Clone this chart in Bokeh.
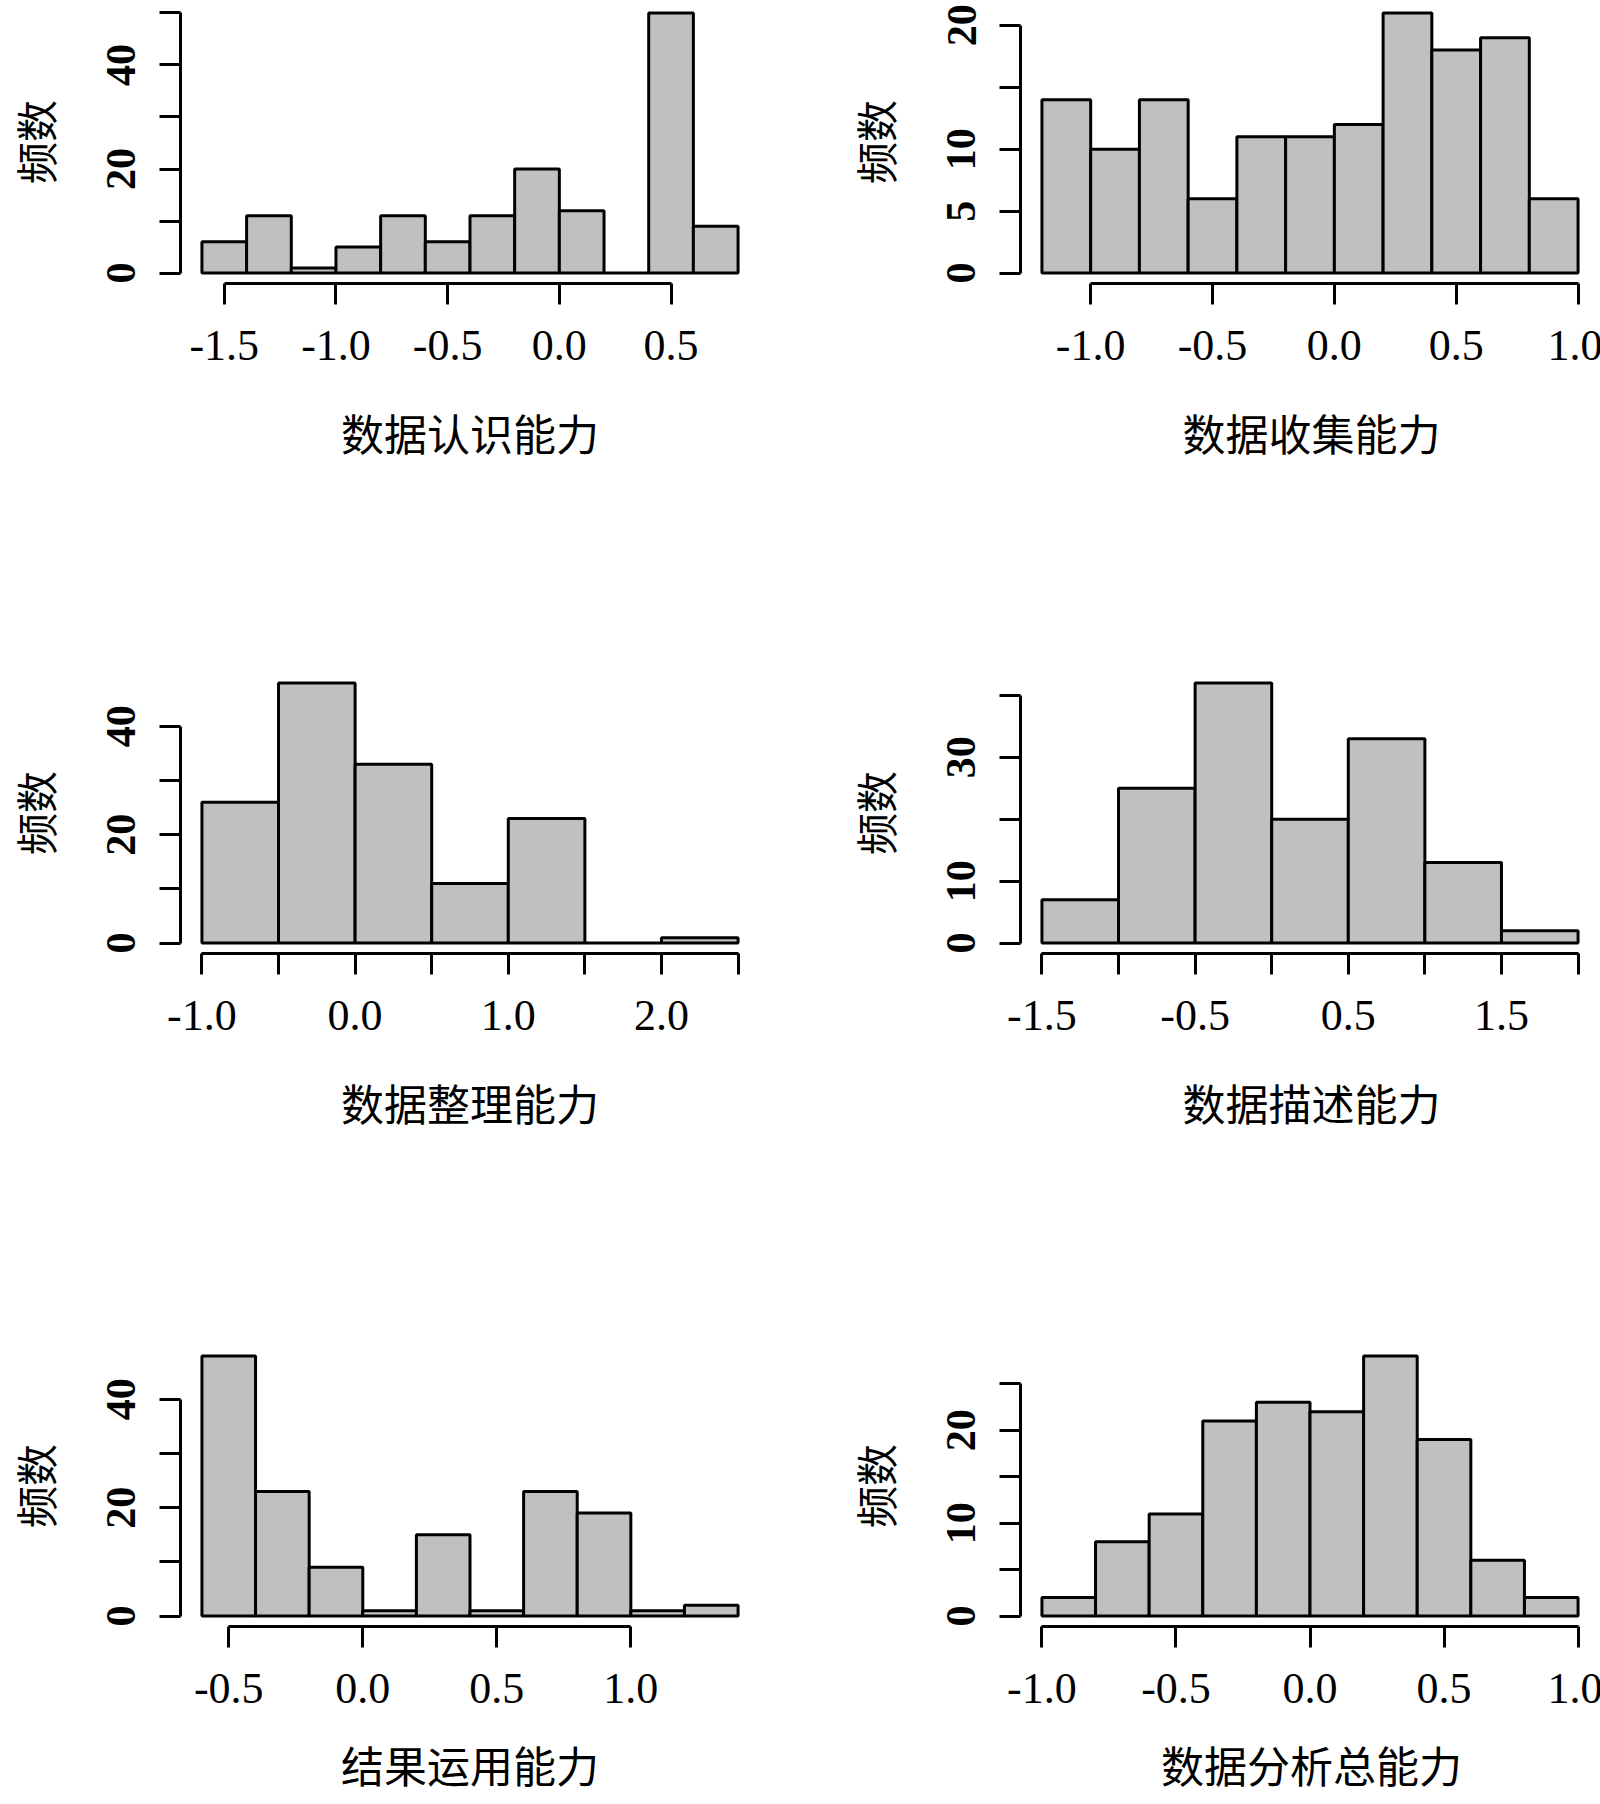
from bokeh.plotting import figure
from bokeh.layouts import column, row
from bokeh.models import Range1d, FixedTicker
from bokeh.embed import file_html
from bokeh.resources import INLINE

# ---------------- data ----------------
y_title = "频数"

title_a = "数据认识能力"
breaks_a = [-1.6, -1.4, -1.2, -1.0, -0.8, -0.6, -0.4, -0.2, 0.0, 0.2, 0.4, 0.6, 0.8]
counts_a = [6, 11, 1, 5, 11, 6, 11, 20, 12, 0, 50, 9]
xticks_a = [-1.5, -1.0, -0.5, 0.0, 0.5]
xlabels_a = ["-1.5", "-1.0", "-0.5", "0.0", "0.5"]
yticks_a = [0, 10, 20, 30, 40, 50]
ylabels_a = ["0", "", "20", "", "40", ""]

title_b = "数据收集能力"
breaks_b = [-1.2, -1.0, -0.8, -0.6, -0.4, -0.2, 0.0, 0.2, 0.4, 0.6, 0.8, 1.0]
counts_b = [14, 10, 14, 6, 11, 11, 12, 21, 18, 19, 6]
xticks_b = [-1.0, -0.5, 0.0, 0.5, 1.0]
xlabels_b = ["-1.0", "-0.5", "0.0", "0.5", "1.0"]
yticks_b = [0, 5, 10, 15, 20]
ylabels_b = ["0", "5", "10", "", "20"]

title_c = "数据整理能力"
breaks_c = [-1.0, -0.5, 0.0, 0.5, 1.0, 1.5, 2.0, 2.5]
counts_c = [26, 48, 33, 11, 23, 0, 1]
xticks_c = [-1.0, -0.5, 0.0, 0.5, 1.0, 1.5, 2.0, 2.5]
xlabels_c = ["-1.0", "", "0.0", "", "1.0", "", "2.0", ""]
yticks_c = [0, 10, 20, 30, 40]
ylabels_c = ["0", "", "20", "", "40"]

title_d = "数据描述能力"
breaks_d = [-1.5, -1.0, -0.5, 0.0, 0.5, 1.0, 1.5, 2.0]
counts_d = [7, 25, 42, 20, 33, 13, 2]
xticks_d = [-1.5, -1.0, -0.5, 0.0, 0.5, 1.0, 1.5, 2.0]
xlabels_d = ["-1.5", "", "-0.5", "", "0.5", "", "1.5", ""]
yticks_d = [0, 10, 20, 30, 40]
ylabels_d = ["0", "10", "", "30", ""]

title_e = "结果运用能力"
breaks_e = [-0.6, -0.4, -0.2, 0.0, 0.2, 0.4, 0.6, 0.8, 1.0, 1.2, 1.4]
counts_e = [48, 23, 9, 1, 15, 1, 23, 19, 1, 2]
xticks_e = [-0.5, 0.0, 0.5, 1.0]
xlabels_e = ["-0.5", "0.0", "0.5", "1.0"]
yticks_e = [0, 10, 20, 30, 40]
ylabels_e = ["0", "", "20", "", "40"]

title_f = "数据分析总能力"
breaks_f = [-1.0, -0.8, -0.6, -0.4, -0.2, 0.0, 0.2, 0.4, 0.6, 0.8, 1.0]
counts_f = [2, 8, 11, 21, 23, 22, 28, 19, 6, 2]
xticks_f = [-1.0, -0.5, 0.0, 0.5, 1.0]
xlabels_f = ["-1.0", "-0.5", "0.0", "0.5", "1.0"]
yticks_f = [0, 5, 10, 15, 20, 25]
ylabels_f = ["0", "", "10", "", "20", ""]

panels = [
    (title_a, breaks_a, counts_a, xticks_a, xlabels_a, yticks_a, ylabels_a),
    (title_b, breaks_b, counts_b, xticks_b, xlabels_b, yticks_b, ylabels_b),
    (title_c, breaks_c, counts_c, xticks_c, xlabels_c, yticks_c, ylabels_c),
    (title_d, breaks_d, counts_d, xticks_d, xlabels_d, yticks_d, ylabels_d),
    (title_e, breaks_e, counts_e, xticks_e, xlabels_e, yticks_e, ylabels_e),
    (title_f, breaks_f, counts_f, xticks_f, xlabels_f, yticks_f, ylabels_f),
]

# ---------------- layout ----------------
FULL_W = 579          # R plot-region width
FULL_H = 281          # R plot-region height
col_border_left = [178, 218]
col_frame_w = [579, 582]
col_border_right = [43, 0]
row_border_top = [0, 189, 192]
row_frame_h = [283, 281, 281]
row_border_bottom = [200, 200, 178]
row_title_standoff = [38, 38, 27]

NUM_FONT = "Liberation Serif"
CJK_FONT = "Noto Sans CJK SC"
LW = 3.0


def make_panel(idx):
    title, breaks, counts, xticks, xlabels, yticks, ylabels = panels[idx]
    r, c = divmod(idx, 2)
    dx = breaks[-1] - breaks[0]
    x0 = breaks[0] - 0.04 * dx
    x1 = x0 + col_frame_w[c] * (1.08 * dx) / FULL_W
    ymax = max(counts)
    y0 = -0.04 * ymax
    y1 = y0 + row_frame_h[r] * (1.08 * ymax) / FULL_H

    p = figure(
        frame_width=col_frame_w[c], frame_height=row_frame_h[r],
        x_range=Range1d(x0, x1), y_range=Range1d(y0, y1),
        output_backend="svg", toolbar_location=None,
        min_border_left=col_border_left[c], min_border_right=col_border_right[c],
        min_border_top=row_border_top[r], min_border_bottom=row_border_bottom[r],
        background_fill_color="white", border_fill_color="white",
    )
    p.outline_line_color = None
    p.grid.visible = False

    p.quad(left=breaks[:-1], right=breaks[1:], bottom=0, top=counts,
           fill_color="#c0c0c0", line_color="black", line_width=LW)

    xa = p.xaxis[0]
    xa.ticker = FixedTicker(ticks=xticks, minor_ticks=[])
    xa.major_label_overrides = {t: l for t, l in zip(xticks, xlabels)}
    xa.bounds = (xticks[0], xticks[-1])
    xa.major_label_standoff = 26
    xa.major_label_text_font_size = "44px"
    xa.axis_label = title
    xa.axis_label_standoff = row_title_standoff[r]
    xa.axis_label_text_font_size = "43px"

    ya = p.yaxis[0]
    ya.ticker = FixedTicker(ticks=yticks, minor_ticks=[])
    ya.major_label_overrides = {t: l for t, l in zip(yticks, ylabels)}
    ya.bounds = (yticks[0], yticks[-1])
    ya.major_label_orientation = "vertical"
    ya.major_label_standoff = 24
    ya.major_label_text_font_size = "42px"
    ya.major_label_text_font_style = "bold"
    ya.axis_label = y_title
    ya.axis_label_standoff = 40
    ya.axis_label_text_font_size = "42px"

    for ax in (xa, ya):
        ax.axis_line_width = LW
        ax.axis_line_color = "black"
        ax.major_tick_line_width = LW
        ax.major_tick_line_color = "black"
        ax.major_tick_out = 21
        ax.major_tick_in = 0
        ax.minor_tick_out = 0
        ax.minor_tick_in = 0
        ax.major_label_text_font = NUM_FONT
        ax.major_label_text_color = "black"
        ax.axis_label_text_font = CJK_FONT
        ax.axis_label_text_font_style = "normal"
        ax.axis_label_text_color = "black"
        ax.axis_label_text_line_height = 1.0
    return p


figs = [make_panel(i) for i in range(6)]
layout = column(
    row(figs[0], figs[1], spacing=0),
    row(figs[2], figs[3], spacing=0),
    row(figs[4], figs[5], spacing=0),
    spacing=0,
)

open("out.html", "w").write(file_html(layout, INLINE))
